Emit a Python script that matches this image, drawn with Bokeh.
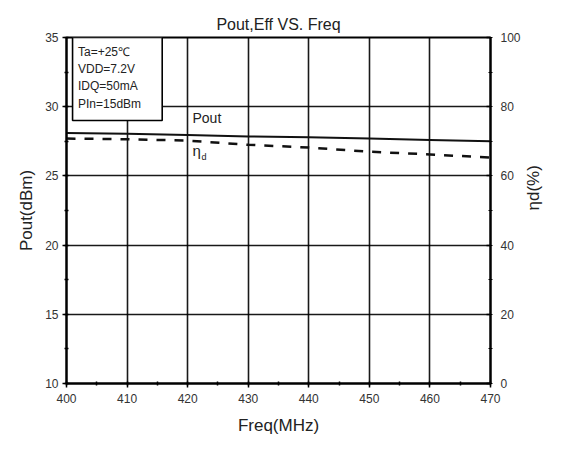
import math
from bokeh.plotting import figure
from bokeh.models import Range1d, LinearAxis, SingleIntervalTicker, BoxAnnotation, Label, ColumnDataSource
from bokeh.embed import file_html
from bokeh.resources import INLINE

freq = [400, 410, 420, 430, 440, 450, 460, 470]
pout = [28.1, 28.05, 27.95, 27.85, 27.8, 27.7, 27.6, 27.5]
eff = [70.8, 70.6, 70.2, 69.0, 68.2, 67.0, 66.2, 65.3]
conditions = ["Ta=+25\u2103", "VDD=7.2V", "IDQ=50mA", "PIn=15dBm"]

FONT = "Liberation Sans"

p = figure(width=571, height=450, output_backend="svg", toolbar_location=None,
           x_range=Range1d(400, 470), y_range=Range1d(10, 35),
           min_border_left=66, min_border_right=81, min_border_top=37, min_border_bottom=67)
p.extra_y_ranges = {"eff": Range1d(0, 100)}

p.title.text = "Pout,Eff VS. Freq"
p.title.align = "center"
p.title.text_font = FONT
p.title.text_font_size = "16px"
p.title.text_font_style = "normal"
p.title.text_color = "#222222"
p.title.offset = 0

p.outline_line_color = "black"
p.outline_line_width = 2
p.background_fill_color = "white"
p.border_fill_color = "white"

p.xaxis.ticker = SingleIntervalTicker(interval=10, num_minor_ticks=2)
p.yaxis.ticker = SingleIntervalTicker(interval=5, num_minor_ticks=2)
for ax in [p.xaxis[0], p.yaxis[0]]:
    ax.axis_line_color = "black"
    ax.axis_line_width = 2
    ax.major_tick_line_width = 1.5
    ax.major_tick_out = 4
    ax.major_tick_in = 0
    ax.minor_tick_in = 2
    ax.minor_tick_out = 2
    ax.minor_tick_line_width = 1.5
    ax.major_label_text_font = FONT
    ax.major_label_text_font_size = "12px"
    ax.major_label_text_color = "#333333"
    ax.axis_label_text_font = FONT
    ax.axis_label_text_font_size = "17px"
    ax.axis_label_text_font_style = "normal"
    ax.axis_label_text_color = "#222222"
p.xaxis.axis_label = "Freq(MHz)"
p.yaxis.axis_label = "Pout(dBm)"
p.xaxis.major_label_standoff = 6
p.xaxis.axis_label_standoff = 10
p.yaxis.major_label_standoff = 4
p.yaxis.axis_label_standoff = 6

ry = LinearAxis(y_range_name="eff", ticker=SingleIntervalTicker(interval=20, num_minor_ticks=2))
ry.axis_line_color = "black"
ry.axis_line_width = 2
ry.major_tick_line_width = 1.5
ry.major_tick_out = 0
ry.major_tick_in = 4
ry.minor_tick_in = 2
ry.minor_tick_out = 2
ry.major_label_text_font = FONT
ry.major_label_text_font_size = "12px"
ry.major_label_text_color = "#333333"
ry.major_label_standoff = 8
ry.axis_label = "\u03b7d(%)"
ry.axis_label_orientation = math.pi / 2
ry.axis_label_text_font = FONT
ry.axis_label_text_font_size = "17px"
ry.axis_label_text_font_style = "normal"
ry.axis_label_text_color = "#222222"
ry.axis_label_standoff = 10
p.add_layout(ry, "right")

p.xgrid.ticker = SingleIntervalTicker(interval=10)
p.ygrid.ticker = SingleIntervalTicker(interval=5)
p.grid.grid_line_color = "black"
p.grid.grid_line_width = 1.6
p.grid.grid_line_alpha = 0.9

src = ColumnDataSource(dict(freq=freq, pout=pout, eff=eff))
p.line("freq", "pout", source=src, line_color="#111111", line_width=2)
p.line("freq", "eff", source=src, y_range_name="eff", line_color="#111111",
       line_width=2.5, line_dash="9 9")

p.add_layout(BoxAnnotation(left=401.0, right=415.8, top=35, bottom=29.0,
                           fill_color="white", fill_alpha=1.0,
                           line_color="black", line_alpha=1.0, line_width=1.6))
ys = [33.92, 32.69, 31.46, 30.23]
for t, yv in zip(conditions, ys):
    p.add_layout(Label(x=401.9, y=yv, text=t, text_font=FONT, text_font_size="12px",
                       text_color="#222222", text_baseline="middle"))

p.add_layout(Label(x=420.8, y=29.15, text="Pout", text_font=FONT, text_font_size="14px",
                   text_color="#222222", text_baseline="middle"))
p.add_layout(Label(x=420.8, y=26.84, text="\u03b7", text_font=FONT, text_font_size="15px",
                   text_color="#222222", text_baseline="middle"))
p.add_layout(Label(x=422.3, y=26.4, text="d", text_font=FONT, text_font_size="9px",
                   text_color="#222222", text_baseline="middle"))

open("out.html", "w").write(file_html(p, INLINE))
